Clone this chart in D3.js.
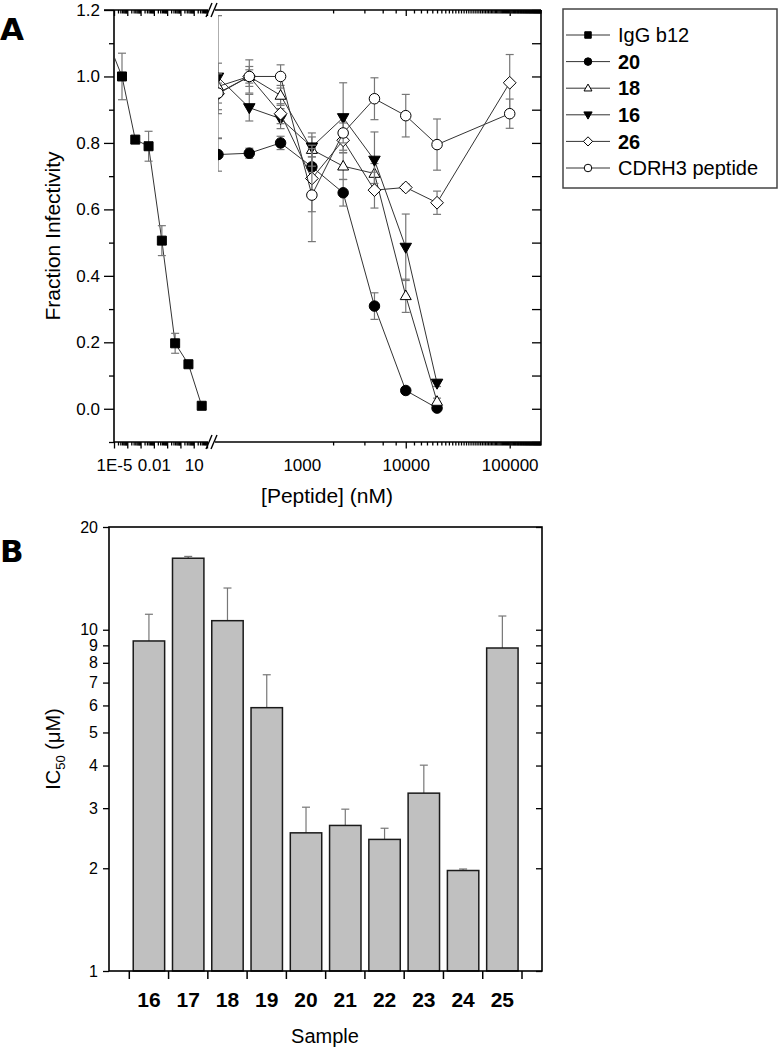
<!DOCTYPE html>
<html><head><meta charset="utf-8">
<script src="https://cdn.jsdelivr.net/npm/d3@7"></script>
<style>
body{margin:0;background:#fff}
svg{display:block}
text{font-family:"Liberation Sans",Arial,Helvetica,sans-serif;fill:#000}
</style></head>
<body><svg id="c" width="783" height="1050"></svg>
<script>
// ---------------- DATA: panel A ----------------
const concLeft = [4e-6, 4e-5, 4e-4, 4e-3, 4e-2, 0.4, 4, 40];          // IgG b12 concentrations (nM)
const igG = [1.10, 1.00, 0.81, 0.79, 0.506, 0.197, 0.134, 0.009];
const igGErr = [0, 0.07, 0, 0.045, 0.045, 0.03, 0.01, 0];

const concRight = [156.25, 312.5, 625, 1250, 2500, 5000, 10000, 20000, 100000]; // peptide conc (nM)
const p20 = [0.765, 0.769, 0.80, 0.728, 0.65, 0.309, 0.055, 0.002];
const p20Err = [0.05, 0.015, 0.02, 0.03, 0.04, 0.04, 0.005, 0.005];
const p18 = [0.97, 1.00, 0.943, 0.78, 0.73, 0.708, 0.34, 0.022];
const p18Err = [0.07, 0.02, 0.03, 0.05, 0.04, 0.03, 0.05, 0.01];
const p16 = [0.998, 0.906, 0.873, 0.788, 0.876, 0.748, 0.486, 0.077];
const p16Err = [0.185, 0.04, 0.03, 0.03, 0.105, 0.085, 0.10, 0.01];
const p26 = [0.948, 1.00, 0.888, 0.693, 0.808, 0.658, 0.666, 0.62, 0.981];
const p26Err = [0.06, 0.05, 0.03, 0.10, 0.03, 0.054, 0.01, 0.035, 0.085];
const pCDR = [0.95, 1.00, 1.00, 0.643, 0.83, 0.933, 0.882, 0.795, 0.888];
const pCDRErr = [0.03, 0.03, 0.035, 0.14, 0.03, 0.063, 0.064, 0.077, 0.044];

const legendNames = ["IgG b12", "20", "18", "16", "26", "CDRH3 peptide"];
const legendBold = [false, true, true, true, true, false];

const yTicksA = [0.0, 0.2, 0.4, 0.6, 0.8, 1.0, 1.2];
const yMinorA = [-0.1, 0.1, 0.3, 0.5, 0.7, 0.9, 1.1];
const xLabelsLeftVals = [1e-5, 1e-2, 10];
const xLabelsLeft = ["1E-5", "0.01", "10"];
const xLabelsRightVals = [1000, 10000, 100000];
const xLabelsRight = ["1000", "10000", "100000"];

// ---------------- DATA: panel B ----------------
const samples = ["16", "17", "18", "19", "20", "21", "22", "23", "24", "25"];
const ic50 = [9.27, 16.2, 10.63, 5.91, 2.54, 2.67, 2.43, 3.32, 1.97, 8.84];
const ic50Err = [1.83, 0.2, 2.62, 1.47, 0.48, 0.31, 0.19, 0.69, 0.02, 2.13];
const yTicksB = [1, 2, 3, 4, 5, 6, 7, 8, 9, 10, 20];

// ---------------- LAYOUT ----------------
const svg = d3.select("#c");
svg.append("rect").attr("width", 783).attr("height", 1050).attr("fill", "#fff");

const A = {l: 114, r: 541, t: 10, b: 442, bl: 207, br: 218};
const yA = d3.scaleLinear().domain([-0.1, 1.2]).range([A.b, A.t]);
const xL = d3.scaleLog().domain([1e-5, 100]).range([A.l, A.bl]);
const xR = d3.scaleLog().domain([156.25, 2e5]).range([A.br, A.r]);

const defs = svg.append("defs");
defs.append("clipPath").attr("id", "clipL").append("rect")
  .attr("x", A.l).attr("y", A.t - 20).attr("width", A.bl - A.l).attr("height", A.b - A.t + 40);
defs.append("clipPath").attr("id", "clipR").append("rect")
  .attr("x", A.br).attr("y", A.t - 20).attr("width", A.r - A.br + 10).attr("height", A.b - A.t + 40);

// marker shapes
function shapePath(shape, s) {
  const p = d3.path();
  if (shape === "square") { p.rect(-s / 2, -s / 2, s, s); }
  else if (shape === "circle") { p.arc(0, 0, s / 2, 0, 2 * Math.PI); }
  else if (shape === "tri") { const h = s * 0.87; p.moveTo(0, -h * 0.6); p.lineTo(s / 2, h * 0.4); p.lineTo(-s / 2, h * 0.4); p.closePath(); }
  else if (shape === "tridown") { const h = s * 0.87; p.moveTo(0, h * 0.6); p.lineTo(s / 2, -h * 0.4); p.lineTo(-s / 2, -h * 0.4); p.closePath(); }
  else if (shape === "diamond") { const r = s * 0.58; p.moveTo(0, -r); p.lineTo(r, 0); p.lineTo(0, r); p.lineTo(-r, 0); p.closePath(); }
  return p.toString();
}

const series = [
  {x: concLeft, y: igG, e: igGErr, shape: "square", filled: true, size: 9, xs: xL, clip: "clipL"},
  {x: concRight, y: p20, e: p20Err, shape: "circle", filled: true, size: 10.5, xs: xR, clip: "clipR"},
  {x: concRight, y: p18, e: p18Err, shape: "tri", filled: false, size: 11, xs: xR, clip: "clipR"},
  {x: concRight, y: p16, e: p16Err, shape: "tridown", filled: true, size: 11.5, xs: xR, clip: "clipR"},
  {x: concRight, y: p26, e: p26Err, shape: "diamond", filled: false, size: 11, xs: xR, clip: "clipR"},
  {x: concRight, y: pCDR, e: pCDRErr, shape: "circle", filled: false, size: 10.5, xs: xR, clip: "clipR"}
];

// axes panel A
const gA = svg.append("g");
const axStyle = g => { g.select(".domain").remove(); g.selectAll("line").attr("stroke", "#000").attr("stroke-width", 1.3); g.selectAll("text").attr("font-size", 17).attr("font-family", "Liberation Sans, Arial, sans-serif"); };

gA.append("g").attr("transform", `translate(${A.l},0)`)
  .call(d3.axisLeft(yA).tickValues(yTicksA).tickSize(10).tickPadding(4).tickFormat(d3.format(".1f"))).call(axStyle);
gA.append("g").attr("transform", `translate(${A.l},0)`)
  .call(d3.axisLeft(yA).tickValues(yMinorA).tickSize(5).tickFormat("")).call(axStyle);
gA.append("g").attr("transform", `translate(${A.r},0)`)
  .call(d3.axisRight(yA).tickValues(yTicksA.concat(yMinorA)).tickSize(-9).tickFormat("")).call(axStyle);

function logTicks(scale) {
  const all = scale.ticks(100);
  const d = scale.domain();
  const major = all.filter(v => Math.abs(Math.log10(v) - Math.round(Math.log10(v))) < 1e-9 && v >= d[0] && v <= d[1]);
  const minor = all.filter(v => !major.includes(v) && v > d[0] * 1.0001 && v < d[1] * 0.9999);
  return {major, minor};
}
const tL = logTicks(xL), tR = logTicks(xR);
[[xL, tL], [xR, tR]].forEach(([sc, t]) => {
  gA.append("g").attr("transform", `translate(0,${A.b})`).call(d3.axisBottom(sc).tickValues(t.major).tickSize(6.5).tickFormat("")).call(axStyle);
  gA.append("g").attr("transform", `translate(0,${A.b})`).call(d3.axisBottom(sc).tickValues(t.minor).tickSize(3.5).tickFormat("")).call(axStyle);
  gA.append("g").attr("transform", `translate(0,${A.t})`).call(d3.axisBottom(sc).tickValues(t.major).tickSize(6).tickFormat("")).call(axStyle);
  gA.append("g").attr("transform", `translate(0,${A.t})`).call(d3.axisBottom(sc).tickValues(t.minor).tickSize(3.5).tickFormat("")).call(axStyle);
});
gA.append("g").attr("transform", `translate(0,${A.b})`)
  .call(d3.axisBottom(xL).tickValues(xLabelsLeftVals).tickSize(0).tickPadding(17).tickFormat((d, i) => xLabelsLeft[i])).call(axStyle);
gA.append("g").attr("transform", `translate(0,${A.b})`)
  .call(d3.axisBottom(xR).tickValues(xLabelsRightVals).tickSize(0).tickPadding(17).tickFormat((d, i) => xLabelsRight[i])).call(axStyle);

// frame panel A
const fr = gA.append("g").attr("stroke", "#000").attr("stroke-width", 1.6).attr("fill", "none");
fr.append("line").attr("x1", A.l).attr("x2", A.l).attr("y1", A.t).attr("y2", A.b);
fr.append("line").attr("x1", A.r).attr("x2", A.r).attr("y1", A.t).attr("y2", A.b);
[A.t, A.b].forEach(y => {
  fr.append("line").attr("x1", y === A.t ? A.l - 10 : A.l).attr("x2", A.bl + 1).attr("y1", y).attr("y2", y);
  fr.append("line").attr("x1", A.bl + 8).attr("x2", A.r).attr("y1", y).attr("y2", y);
  [A.bl + 2, A.bl + 7].forEach(x => {
    fr.append("line").attr("x1", x - 3).attr("y1", y + 7).attr("x2", x + 3).attr("y2", y - 7).attr("stroke-width", 1.4);
  });
});

// data panel A
series.forEach(s => {
  const g = svg.append("g").attr("clip-path", `url(#${s.clip})`);
  const pts = s.x.map((x, i) => [s.xs(x), yA(s.y[i]), s.e[i], s.y[i]]);
  g.append("path").attr("d", d3.line()(pts.map(p => [p[0], p[1]])))
    .attr("fill", "none").attr("stroke", "#333").attr("stroke-width", 1);
  pts.forEach(p => {
    if (p[2] > 0) {
      const y1 = yA(p[3] + p[2]), y2 = yA(p[3] - p[2]);
      g.append("line").attr("x1", p[0]).attr("x2", p[0]).attr("y1", y1).attr("y2", y2).attr("stroke", "#777").attr("stroke-width", 1.2);
      [y1, y2].forEach(yy => g.append("line").attr("x1", p[0] - 4).attr("x2", p[0] + 4).attr("y1", yy).attr("y2", yy).attr("stroke", "#777").attr("stroke-width", 1.2));
    }
  });
  pts.forEach(p => {
    g.append("path").attr("d", shapePath(s.shape, s.size)).attr("transform", `translate(${p[0]},${p[1]})`)
      .attr("fill", s.filled ? "#000" : "#fff").attr("stroke", "#000").attr("stroke-width", 1);
  });
});

// legend
const lg = svg.append("g");
lg.append("rect").attr("x", 563).attr("y", 9).attr("width", 214).attr("height", 179)
  .attr("fill", "#fff").attr("stroke", "#444").attr("stroke-width", 1.5);
legendNames.forEach((name, i) => {
  const y = 35 + i * 26.6, s = series[i];
  lg.append("line").attr("x1", 566).attr("x2", 610).attr("y1", y).attr("y2", y).attr("stroke", "#333").attr("stroke-width", 1);
  lg.append("path").attr("d", shapePath(s.shape, s.size * 0.72)).attr("transform", `translate(588,${y})`)
    .attr("fill", s.filled ? "#000" : "#fff").attr("stroke", "#000").attr("stroke-width", 1);
  lg.append("text").attr("x", 618).attr("y", y).attr("dy", "0.36em").attr("font-size", 20)
    .attr("font-weight", legendBold[i] ? "bold" : "normal").text(name);
});

// titles panel A
svg.append("text").attr("x", 327).attr("y", 503).attr("text-anchor", "middle").attr("font-size", 21).text("[Peptide] (nM)");
svg.append("text").attr("transform", "translate(60,236) rotate(-90)").attr("text-anchor", "middle").attr("font-size", 21).text("Fraction Infectivity");
svg.append("text").attr("x", 0).attr("y", 40).attr("font-size", 31).attr("font-weight", "bold")
  .style("font-family", "DejaVu Sans, sans-serif").text("A");

// ---------------- PANEL B ----------------
const B = {l: 109, r: 542, t: 527, b: 971};
const yB = d3.scaleLog().domain([1, 20]).range([B.b, B.t]);
const xB = d3.scaleBand().domain(samples).range([129.3, 522]).padding(0);
const gB = svg.append("g");

gB.append("g").attr("transform", `translate(${B.l},0)`)
  .call(d3.axisLeft(yB).tickValues(yTicksB).tickSize(6).tickPadding(5).tickFormat(d3.format("d"))).call(axStyle)
  .selectAll("text").attr("font-size", 16);
gB.append("g").attr("transform", `translate(${B.r},0)`)
  .call(d3.axisRight(yB).tickValues(yTicksB).tickSize(-6).tickFormat("")).call(axStyle);
gB.append("g").attr("transform", `translate(0,${B.b})`)
  .call(d3.axisBottom(xB).tickSize(0).tickPadding(21)).call(axStyle)
  .selectAll("text").attr("font-size", 21).attr("font-weight", "bold");
const bounds = samples.map(s => xB(s)).concat([xB.range()[1]]);
bounds.forEach(x => gB.append("line").attr("x1", x).attr("x2", x).attr("y1", B.b).attr("y2", B.b + 8).attr("stroke", "#000").attr("stroke-width", 1.5));

// error bars (upper only)
samples.forEach((s, i) => {
  const cx = xB(s) + xB.bandwidth() / 2;
  const yt = yB(ic50[i] + ic50Err[i]);
  gB.append("line").attr("x1", cx).attr("x2", cx).attr("y1", yB(ic50[i])).attr("y2", yt).attr("stroke", "#777").attr("stroke-width", 1.2);
  gB.append("line").attr("x1", cx - 4).attr("x2", cx + 4).attr("y1", yt).attr("y2", yt).attr("stroke", "#777").attr("stroke-width", 1.2);
});
// bars
samples.forEach((s, i) => {
  const w = xB.bandwidth() * 0.8;
  gB.append("rect").attr("x", xB(s) + (xB.bandwidth() - w) / 2).attr("y", yB(ic50[i]))
    .attr("width", w).attr("height", B.b - yB(ic50[i]))
    .attr("fill", "#c0c0c0").attr("stroke", "#1a1a1a").attr("stroke-width", 1.5);
});
gB.append("rect").attr("x", B.l).attr("y", B.t).attr("width", B.r - B.l).attr("height", B.b - B.t)
  .attr("fill", "none").attr("stroke", "#000").attr("stroke-width", 1.6);

const ic = svg.append("text").attr("transform", "translate(60,749) rotate(-90)").attr("text-anchor", "middle").attr("font-size", 20);
ic.append("tspan").text("IC");
ic.append("tspan").attr("font-size", 13).attr("dy", 5).text("50");
ic.append("tspan").attr("dy", -5).text(" (\u03BCM)");
svg.append("text").attr("x", 325).attr("y", 1043).attr("text-anchor", "middle").attr("font-size", 20).text("Sample");
svg.append("text").attr("x", 0).attr("y", 562).attr("font-size", 31).attr("font-weight", "bold")
  .style("font-family", "DejaVu Sans, sans-serif").text("B");
</script></body></html>
